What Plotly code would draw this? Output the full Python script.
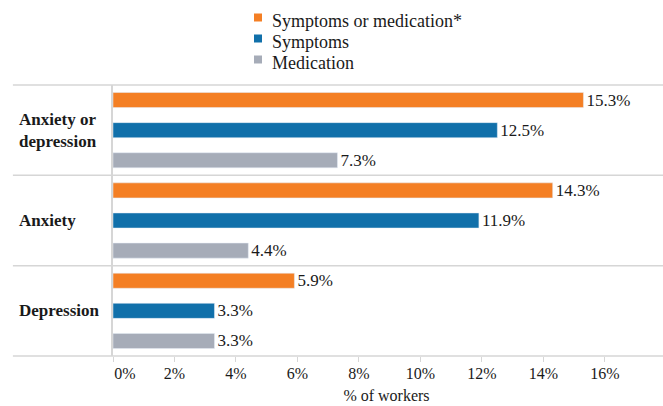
import plotly.graph_objects as go

# Data
categories = ["Anxiety or depression", "Anxiety", "Depression"]
category_labels = ["Anxiety or<br>depression", "Anxiety", "Depression"]
series_names = ["Symptoms or medication*", "Symptoms", "Medication"]
symptoms_or_medication = [15.3, 14.3, 5.9]
symptoms = [12.5, 11.9, 3.3]
medication = [7.3, 4.4, 3.3]
x_ticks = [0, 2, 4, 6, 8, 10, 12, 14, 16]
x_tick_labels = [f"{v}%" for v in x_ticks]
# the original nudges the first label off the axis line
x_tick_labels[0] = "\u00a0" * 6 + x_tick_labels[0]

COLORS = ["#F47F24", "#1170AA", "#A6ACB8"]
FONT = "Liberation Serif"
TEXT = "#1a1a1a"
LINE = "#D6D6D6"

# plot area in pixels (used to place the hand-made legend)
PLOT_L, PLOT_T, PLOT_W, PLOT_H = 113, 85, 547, 271


def px_x(px):
    return (px - PLOT_L) / PLOT_W


def px_y(py):
    return 1 + (PLOT_T - py) / PLOT_H


fig = go.Figure()

for name, values, color in zip(series_names,
                               [symptoms_or_medication, symptoms, medication],
                               COLORS):
    fig.add_trace(go.Bar(
        y=categories,
        x=values,
        orientation="h",
        name=name,
        marker_color=color,
        texttemplate="%{x:.1f}%",
        textposition="outside",
        constraintext="none",
        textfont=dict(size=17, color=TEXT, family=FONT),
        cliponaxis=False,
        showlegend=False,
    ))

# legend drawn by hand so the rows sit as tight as in the original
for i, (name, color) in enumerate(zip(series_names, COLORS)):
    cy = 17.5 + i * 21
    fig.add_shape(type="rect", xref="paper", yref="paper",
                  x0=px_x(254), x1=px_x(262), y0=px_y(cy - 4), y1=px_y(cy + 4),
                  fillcolor=color, line=dict(width=0))
    fig.add_annotation(xref="paper", yref="paper", x=px_x(270), y=px_y(cy + 3.5),
                       text=name, showarrow=False, xanchor="left",
                       yanchor="middle",
                       font=dict(size=18, color=TEXT, family=FONT))

# separator lines between groups
for yp in [0, 1 / 3, 2 / 3, 1]:
    fig.add_shape(type="line", xref="paper", yref="paper",
                  x0=-0.183, x1=1.006, y0=yp, y1=yp,
                  line=dict(color=LINE, width=1.5), layer="below")

# category labels (left aligned, bold)
for cat, lab in zip(categories, category_labels):
    fig.add_annotation(xref="paper", yref="y", x=-0.175, y=cat,
                       text=f"<b>{lab}</b>", showarrow=False,
                       xanchor="left", align="left",
                       font=dict(size=17, color=TEXT, family=FONT))

fig.update_layout(
    width=663, height=406,
    margin=dict(l=PLOT_L, r=3, t=PLOT_T, b=50),
    barmode="group",
    bargap=0,
    bargroupgap=0.5,
    plot_bgcolor="white",
    paper_bgcolor="white",
    font=dict(family=FONT, color=TEXT, size=16),
    showlegend=False,
    xaxis=dict(range=[0, 17.79], tickvals=x_ticks, ticktext=x_tick_labels,
               showgrid=False, zeroline=False, showline=False,
               ticks="outside", ticklen=5, tickcolor=LINE,
               ticklabelstandoff=-2,
               tickfont=dict(size=16, color=TEXT, family=FONT),
               title=dict(text="% of workers",
                          font=dict(size=16, color=TEXT, family=FONT),
                          standoff=8)),
    yaxis=dict(autorange="reversed", showticklabels=False, showgrid=False,
               zeroline=False, showline=True, linecolor=LINE, linewidth=1.5,
               ticks=""),
)

fig.write_html("out.html", config={"displayModeBar": False},
               post_script="document.body.style.margin='0';")
